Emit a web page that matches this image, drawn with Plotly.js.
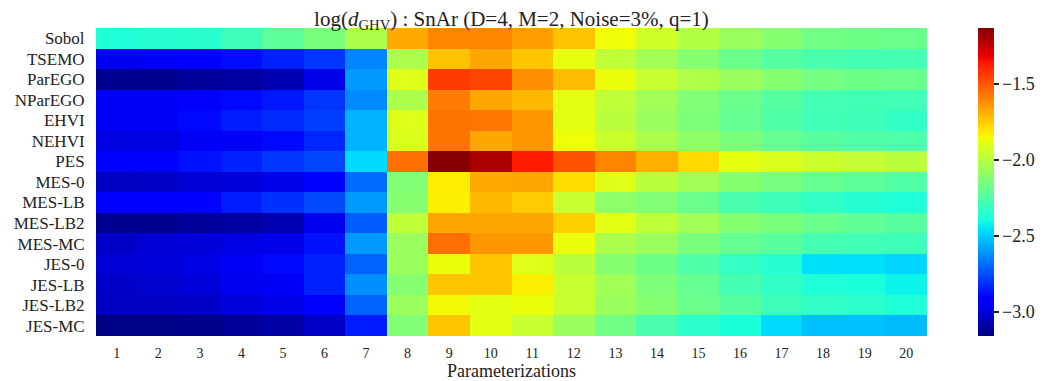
<!DOCTYPE html>
<html>
<head>
<meta charset="utf-8">
<script src="https://cdn.plot.ly/plotly-3.0.1.min.js"></script>
<style>html,body{margin:0;padding:0;background:#fff;}#chart{width:1057px;height:381px;}</style>
</head>
<body>
<div id="chart"></div>
<script>
const methods = ["Sobol","TSEMO","ParEGO","NParEGO","EHVI","NEHVI","PES","MES-0","MES-LB","MES-LB2","MES-MC","JES-0","JES-LB","JES-LB2","JES-MC"];
const parameterizations = [1,2,3,4,5,6,7,8,9,10,11,12,13,14,15,16,17,18,19,20];

const sobol   = [-2.37,-2.36,-2.35,-2.30,-2.22,-2.15,-2.03,-1.68,-1.60,-1.60,-1.65,-1.73,-1.86,-1.94,-2.01,-2.07,-2.12,-2.17,-2.18,-2.19];
const tsemo   = [-2.96,-2.95,-2.94,-2.88,-2.84,-2.80,-2.64,-2.03,-1.73,-1.67,-1.74,-1.88,-1.98,-2.05,-2.12,-2.19,-2.24,-2.27,-2.28,-2.28];
const parego  = [-3.13,-3.13,-3.11,-3.10,-3.07,-2.97,-2.60,-1.90,-1.44,-1.46,-1.62,-1.72,-1.87,-1.96,-2.02,-2.07,-2.12,-2.16,-2.18,-2.19];
const nparego = [-2.95,-2.95,-2.94,-2.89,-2.86,-2.80,-2.63,-2.03,-1.58,-1.67,-1.71,-1.89,-1.98,-2.05,-2.13,-2.19,-2.24,-2.28,-2.29,-2.29];
const ehvi    = [-2.95,-2.95,-2.89,-2.85,-2.82,-2.78,-2.55,-1.90,-1.56,-1.57,-1.64,-1.89,-1.99,-2.07,-2.14,-2.20,-2.25,-2.29,-2.30,-2.33];
const nehvi   = [-2.99,-2.99,-2.95,-2.95,-2.89,-2.83,-2.55,-1.91,-1.56,-1.67,-1.64,-1.86,-1.95,-2.03,-2.10,-2.15,-2.20,-2.23,-2.25,-2.26];
const pes     = [-2.92,-2.92,-2.87,-2.84,-2.80,-2.77,-2.47,-1.55,-1.14,-1.21,-1.37,-1.49,-1.60,-1.69,-1.78,-1.88,-1.91,-1.95,-1.97,-1.99];
const mes0    = [-3.04,-3.03,-3.01,-3.00,-2.97,-2.92,-2.69,-2.13,-1.82,-1.68,-1.67,-1.79,-1.90,-1.99,-2.05,-2.12,-2.16,-2.20,-2.22,-2.25];
const meslb   = [-2.93,-2.93,-2.90,-2.85,-2.81,-2.76,-2.60,-2.12,-1.83,-1.71,-1.75,-1.96,-2.10,-2.13,-2.19,-2.27,-2.30,-2.33,-2.36,-2.37];
const meslb2  = [-3.13,-3.13,-3.11,-3.10,-3.07,-2.96,-2.72,-1.98,-1.67,-1.67,-1.67,-1.76,-1.89,-1.98,-2.05,-2.12,-2.15,-2.19,-2.21,-2.23];
const mesmc   = [-3.03,-3.01,-3.00,-2.98,-2.97,-2.87,-2.60,-2.07,-1.55,-1.64,-1.64,-1.87,-2.03,-2.07,-2.15,-2.20,-2.23,-2.28,-2.29,-2.30];
const jes0    = [-3.01,-3.00,-2.98,-2.95,-2.89,-2.84,-2.71,-2.07,-1.87,-1.74,-1.90,-1.99,-2.12,-2.18,-2.25,-2.32,-2.36,-2.46,-2.46,-2.48];
const jeslb   = [-3.03,-3.02,-3.00,-2.96,-2.95,-2.84,-2.62,-2.12,-1.74,-1.74,-1.83,-1.96,-2.05,-2.14,-2.20,-2.28,-2.33,-2.37,-2.38,-2.42];
const jeslb2  = [-3.04,-3.04,-3.03,-3.00,-2.97,-2.92,-2.71,-2.07,-1.85,-1.89,-1.87,-1.96,-2.07,-2.12,-2.19,-2.24,-2.30,-2.33,-2.34,-2.37];
const jesmc   = [-3.15,-3.15,-3.14,-3.12,-3.09,-3.03,-2.85,-2.13,-1.74,-1.89,-1.96,-2.07,-2.17,-2.27,-2.34,-2.38,-2.47,-2.52,-2.52,-2.53];

const colorTicks = [-3.0,-2.5,-2.0,-1.5];
const colorTickText = ["\u22123.0","\u22122.5","\u22122.0","\u22121.5"];

const z = [sobol,tsemo,parego,nparego,ehvi,nehvi,pes,mes0,meslb,meslb2,mesmc,jes0,jeslb,jeslb2,jesmc];

// matplotlib "jet"
const jet = [
  [0.0,'rgb(0,0,128)'],[0.11,'rgb(0,0,255)'],[0.125,'rgb(0,0,255)'],
  [0.34,'rgb(0,219,255)'],[0.35,'rgb(0,229,247)'],[0.375,'rgb(21,255,226)'],
  [0.64,'rgb(239,255,8)'],[0.65,'rgb(247,245,0)'],[0.66,'rgb(255,236,0)'],
  [0.89,'rgb(255,19,0)'],[0.91,'rgb(232,0,0)'],[1.0,'rgb(128,0,0)']
];

const serif = '"Liberation Serif", "DejaVu Serif", serif';
const ink = '#222';

const trace = {
  type: 'heatmap',
  x: parameterizations,
  y: methods,
  z: z,
  colorscale: jet,
  zmin: -3.158,
  zmax: -1.132,
  xgap: 0, ygap: 0,
  colorbar: {
    x: 1.0614, xanchor: 'left', xref: 'paper',
    y: 0.5, yanchor: 'middle', len: 1, lenmode: 'fraction',
    thickness: 16, outlinewidth: 0, xpad: 0, ypad: 0,
    tickvals: colorTicks, ticktext: colorTickText,
    ticks: 'outside', ticklen: 5, tickwidth: 1.2, tickcolor: ink,
    tickfont: {family: serif, size: 18, color: ink}
  }
};

const layout = {
  width: 1057, height: 381,
  margin: {l: 96, r: 130, t: 28, b: 45, pad: 0},
  paper_bgcolor: '#fff', plot_bgcolor: '#fff',
  font: {family: serif, color: ink},
  title: {
    text: 'log(<i>d</i><sub>GHV</sub>) : SnAr (D=4, M=2, Noise=3%, q=1)',
    font: {family: serif, size: 21, color: ink},
    x: 0.5, xref: 'paper', xanchor: 'center',
    y: 1, yref: 'paper', yanchor: 'bottom', pad: {b: 2}
  },
  xaxis: {
    type: 'category',
    tickmode: 'array',
    tickvals: parameterizations,
    ticktext: parameterizations.map(String),
    ticks: 'outside', ticklen: 4, tickcolor: '#fff',
    tickfont: {family: serif, size: 14, color: ink},
    showgrid: false, zeroline: false, showline: false,
    title: {text: 'Parameterizations', font: {family: serif, size: 18, color: ink}, standoff: 0}
  },
  yaxis: {
    type: 'category',
    autorange: 'reversed',
    tickmode: 'array',
    tickvals: methods,
    ticktext: methods,
    ticks: 'outside', ticklen: 7, tickcolor: '#fff',
    tickfont: {family: serif, size: 17, color: ink},
    showgrid: false, zeroline: false, showline: false
  }
};

Plotly.newPlot('chart', [trace], layout, {displayModeBar: false, staticPlot: true});
</script>
</body>
</html>
